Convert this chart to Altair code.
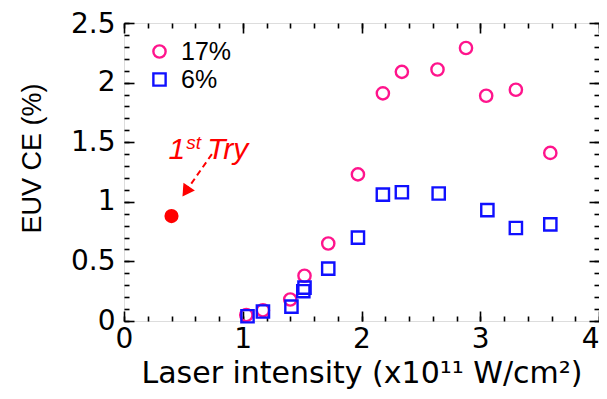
import altair as alt
import pandas as pd

# ---- data ----
x17 = [1.03, 1.17, 1.40, 1.52, 1.72, 1.97, 2.18, 2.34, 2.64, 2.88, 3.05, 3.30, 3.59]
y17 = [0.05, 0.09, 0.18, 0.38, 0.65, 1.23, 1.91, 2.09, 2.11, 2.29, 1.89, 1.94, 1.41]
x6 = [1.04, 1.17, 1.41, 1.51, 1.52, 1.72, 1.97, 2.18, 2.34, 2.65, 3.06, 3.30, 3.59]
y6 = [0.04, 0.08, 0.12, 0.25, 0.28, 0.44, 0.70, 1.06, 1.08, 1.07, 0.93, 0.78, 0.81]
series_names = ["17%", "6%"]
series_colors = ["#ff148c", "#1010ff"]
series_shapes = ["circle", "square"]

first_try_x = [0.40]
first_try_y = [0.88]

x_major = [0, 1, 2, 3, 4]
x_minor = [round(0.2 * i, 1) for i in range(21)]
y_major = [0, 0.5, 1, 1.5, 2, 2.5]
y_minor = [round(0.1 * i, 1) for i in range(26)]

arrow_start = (0.74, 1.40)
arrow_end = (0.53, 1.10)

ann_x = [0.375, 0.525, 0.70]
ann_y = [1.355, 1.44, 1.355]
ann_text = ["1", "st", "Try"]
ann_size = [30, 19, 30]

FONT = "Liberation Sans"
TICKFONT = "DejaVu Sans"

pts = pd.DataFrame({
    "x": x17 + x6,
    "y": y17 + y6,
    "s": ["17%"] * len(x17) + ["6%"] * len(x6),
})
dot = pd.DataFrame({"x": first_try_x, "y": first_try_y})
arrow = pd.DataFrame({"x": [arrow_start[0]], "y": [arrow_start[1]],
                      "x2": [arrow_end[0]], "y2": [arrow_end[1]]})
head = pd.DataFrame({"x": [arrow_end[0]], "y": [arrow_end[1]]})
txt = pd.DataFrame({"x": ann_x, "y": ann_y, "t": ann_text, "fs": ann_size})

xs = alt.Scale(domain=[0, 4], nice=False, zero=False)
ys = alt.Scale(domain=[0, 2.5], nice=False, zero=False)


def make_axis(values, size, orient, labels=False, title=None, lpad=4, tfont=FONT,
              tsize=26, tpad=10, extra=None):
    kw = dict(values=values, tickSize=size, offset=-size, orient=orient, domain=False,
              grid=False, labels=labels, tickWidth=1.6, tickColor="black",
              labelFlush=False, labelOverlap=False)
    if labels:
        kw.update(labelFont=TICKFONT, labelFontSize=28, labelColor="black",
                  labelPadding=lpad, format="~g")
    if title:
        kw.update(title=title, titleFont=tfont, titleFontSize=tsize,
                  titleFontWeight="normal", titleColor="black", titlePadding=tpad)
    else:
        kw.update(title=None)
    if extra:
        kw.update(extra)
    return alt.Axis(**kw)


x_extra = {"labelAlign": {"condition": {"test": "datum.value == 4", "value": "right"},
                          "value": "center"}}
y_extra = {"labelOffset": {"condition": {"test": "datum.value == 2.5", "value": 1},
                           "value": 0},
           "titleY": 135}

points = alt.Chart(pts).mark_point(filled=False, strokeWidth=2.4, size=150, opacity=1).encode(
    x=alt.X("x:Q", scale=xs,
            axis=make_axis(x_major, 10, "bottom", labels=True, lpad=4,
                           title="Laser intensity (x10¹¹ W/cm²)", tfont="DejaVu Sans",
                           tsize=30, tpad=5, extra=x_extra)),
    y=alt.Y("y:Q", scale=ys,
            axis=make_axis(y_major, 10, "left", labels=True, lpad=9,
                           title="EUV CE (%)", tfont=FONT, tsize=27, tpad=24, extra=y_extra)),
    color=alt.Color("s:N", scale=alt.Scale(domain=series_names, range=series_colors),
                    legend=alt.Legend(title=None, orient="none", legendX=23, legendY=16,
                                      labelFont=FONT, labelFontSize=25, labelColor="black",
                                      symbolSize=150, symbolStrokeWidth=2.4, labelOffset=9,
                                      rowPadding=2, padding=0)),
    shape=alt.Shape("s:N", scale=alt.Scale(domain=series_names, range=series_shapes)),
)

red_dot = alt.Chart(dot).mark_point(filled=True, size=200, color="#ff0000", opacity=1).encode(
    x=alt.X("x:Q", scale=xs, axis=make_axis(x_minor, 5, "bottom")),
    y=alt.Y("y:Q", scale=ys, axis=make_axis(y_minor, 5, "left")),
)

arrow_line = alt.Chart(arrow).mark_rule(color="#ff0000", strokeWidth=2, strokeDash=[6, 4]).encode(
    x=alt.X("x:Q", scale=xs, axis=make_axis(x_major, 10, "top")),
    y=alt.Y("y:Q", scale=ys, axis=make_axis(y_major, 10, "right")),
    x2="x2:Q",
    y2="y2:Q",
)

arrow_head = alt.Chart(head).mark_point(shape="triangle", filled=True, size=190, angle=214,
                                        color="#ff0000", opacity=1).encode(
    x=alt.X("x:Q", scale=xs, axis=make_axis(x_minor, 5, "top")),
    y=alt.Y("y:Q", scale=ys, axis=make_axis(y_minor, 5, "right")),
)

label = alt.Chart(txt).mark_text(font=FONT, fontStyle="italic", color="#ff0000",
                                 align="left", baseline="alphabetic").encode(
    x=alt.X("x:Q", scale=xs, axis=None),
    y=alt.Y("y:Q", scale=ys, axis=None),
    text="t:N",
    size=alt.Size("fs:Q", scale=None, legend=None),
)

chart = (
    alt.layer(points, red_dot, arrow_line, arrow_head, label)
    .resolve_axis(x="independent", y="independent")
    .properties(width=475, height=298,
                autosize=alt.AutoSizeParams(type="none"),
                padding={"left": 116, "top": 15, "right": 0, "bottom": 70})
    .configure_view(stroke="black", strokeWidth=2)
    .configure(background="white")
)

chart.save("out.html", embed_options={"renderer": "svg", "actions": False})
